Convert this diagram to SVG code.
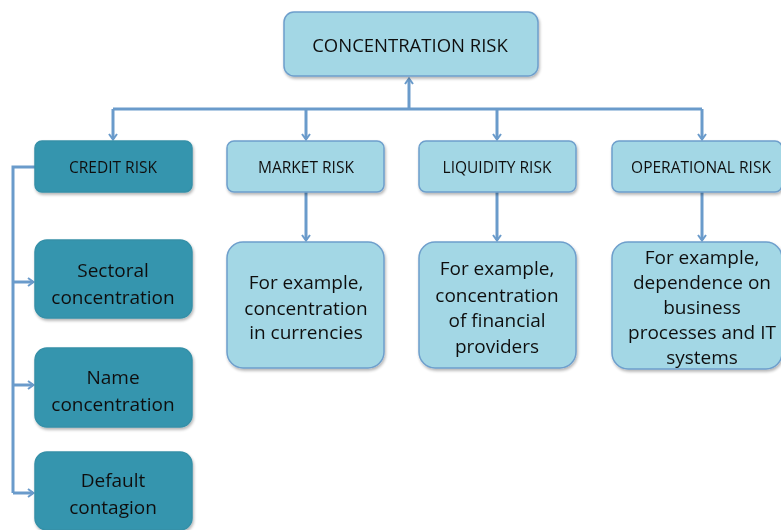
<svg xmlns="http://www.w3.org/2000/svg" width="781" height="530" viewBox="0 0 781 530">
<style>
.light{fill:#A3D7E5;stroke:#6E9FCC;stroke-width:1.5}
.dark{fill:#3495AE;stroke:#3590A8;stroke-width:1.5}
.t{font-family:"Open Sans","Liberation Sans",sans-serif;fill:#111;text-anchor:middle}
.h{font-size:15.5px}
.b{font-size:19px}
.c{fill:none;stroke:#6A9BCB;stroke-width:3}
</style>
<defs>
<filter id="sh" x="-10%" y="-10%" width="120%" height="130%">
<feGaussianBlur in="SourceAlpha" stdDeviation="1.5"/>
<feOffset dx="1" dy="2"/>
<feComponentTransfer><feFuncA type="linear" slope="0.3"/></feComponentTransfer>
<feMerge><feMergeNode/><feMergeNode in="SourceGraphic"/></feMerge>
</filter>
<marker id="ar" markerWidth="10" markerHeight="10" refX="6" refY="5" orient="auto" markerUnits="userSpaceOnUse">
<path d="M1,1 L6.5,5 L1,9" fill="none" stroke="#6A9BCB" stroke-width="2"/>
</marker>
</defs>
<g id="connectors">
<path class="c" d="M409,109 V79" marker-end="url(#ar)"/>
<path class="c" d="M113,109 H702"/>
<path class="c" d="M113,109 V139" marker-end="url(#ar)"/>
<path class="c" d="M306,109 V139" marker-end="url(#ar)"/>
<path class="c" d="M497,109 V139" marker-end="url(#ar)"/>
<path class="c" d="M702,109 V139" marker-end="url(#ar)"/>
<path class="c" d="M306,192 V240" marker-end="url(#ar)"/>
<path class="c" d="M497,192 V240" marker-end="url(#ar)"/>
<path class="c" d="M702,192 V240" marker-end="url(#ar)"/>
<path class="c" d="M35,167 H13 V493"/>
<path class="c" d="M13,282 H33" marker-end="url(#ar)"/>
<path class="c" d="M13,385 H33" marker-end="url(#ar)"/>
<path class="c" d="M13,493 H33" marker-end="url(#ar)"/>
</g>
<g id="concentration-risk" filter="url(#sh)">
<rect class="light" x="284" y="12" width="254" height="64" rx="10"/>
<text class="t" x="410" y="52" font-size="18.5">CONCENTRATION RISK</text>
</g>
<g id="credit-risk" filter="url(#sh)">
<rect class="dark" x="35" y="141" width="157" height="51" rx="7"/>
<text class="t h" x="113" y="173">CREDIT RISK</text>
</g>
<g id="market-risk" filter="url(#sh)">
<rect class="light" x="227" y="141" width="157" height="51" rx="7"/>
<text class="t h" x="306" y="173">MARKET RISK</text>
</g>
<g id="liquidity-risk" filter="url(#sh)">
<rect class="light" x="419" y="141" width="157" height="51" rx="7"/>
<text class="t h" x="497" y="173">LIQUIDITY RISK</text>
</g>
<g id="operational-risk" filter="url(#sh)">
<rect class="light" x="612" y="141" width="170" height="51" rx="7"/>
<text class="t h" x="701" y="173">OPERATIONAL RISK</text>
</g>
<g id="market-example" filter="url(#sh)">
<rect class="light" x="227" y="242" width="157" height="126" rx="16"/>
<text class="t b" x="306" y="289">For example,</text>
<text class="t b" x="306" y="315">concentration</text>
<text class="t b" x="306" y="339">in currencies</text>
</g>
<g id="liquidity-example" filter="url(#sh)">
<rect class="light" x="419" y="242" width="157" height="126" rx="16"/>
<text class="t b" x="497" y="275">For example,</text>
<text class="t b" x="497" y="302">concentration</text>
<text class="t b" x="497" y="327">of financial</text>
<text class="t b" x="497" y="353">providers</text>
</g>
<g id="operational-example" filter="url(#sh)">
<rect class="light" x="612" y="242" width="170" height="127" rx="16"/>
<text class="t b" x="702" y="264">For example,</text>
<text class="t b" x="702" y="289">dependence on</text>
<text class="t b" x="702" y="314">business</text>
<text class="t b" x="702" y="339">processes and IT</text>
<text class="t b" x="702" y="364">systems</text>
</g>
<g id="sectoral" filter="url(#sh)">
<rect class="dark" x="35" y="240" width="157" height="78" rx="12"/>
<text class="t b" x="113" y="277">Sectoral</text>
<text class="t b" x="113" y="304">concentration</text>
</g>
<g id="name" filter="url(#sh)">
<rect class="dark" x="35" y="348" width="157" height="79" rx="12"/>
<text class="t b" x="113" y="384">Name</text>
<text class="t b" x="113" y="411">concentration</text>
</g>
<g id="default" filter="url(#sh)">
<rect class="dark" x="35" y="452" width="157" height="78" rx="12"/>
<text class="t b" x="113" y="487">Default</text>
<text class="t b" x="113" y="514">contagion</text>
</g>
</svg>
